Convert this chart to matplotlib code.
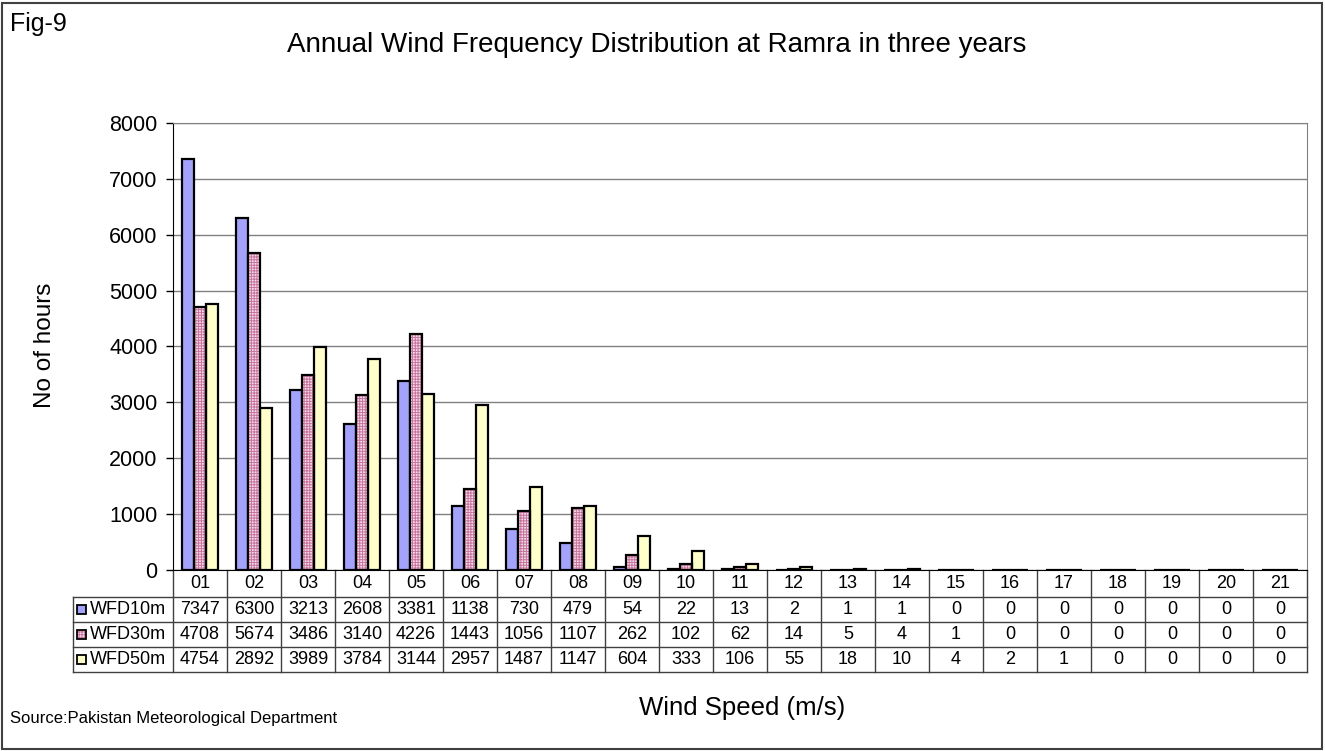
import numpy as np
import matplotlib
matplotlib.use('Agg')
import matplotlib.pyplot as plt
from matplotlib.patches import Rectangle
from matplotlib.transforms import blended_transform_factory

plt.rcParams['font.family'] = ['Liberation Sans', 'DejaVu Sans']
plt.rcParams['hatch.linewidth'] = 0.7

# wind speed classes (m/s) and hours per class
speeds = ['%02d' % i for i in range(1, 22)]
wfd10 = [7347, 6300, 3213, 2608, 3381, 1138, 730, 479, 54, 22, 13, 2, 1, 1, 0, 0, 0, 0, 0, 0, 0]
wfd30 = [4708, 5674, 3486, 3140, 4226, 1443, 1056, 1107, 262, 102, 62, 14, 5, 4, 1, 0, 0, 0, 0, 0, 0]
wfd50 = [4754, 2892, 3989, 3784, 3144, 2957, 1487, 1147, 604, 333, 106, 55, 18, 10, 4, 2, 1, 0, 0, 0, 0]
series_names = ['WFD10m', 'WFD30m', 'WFD50m']

W, H = 1325, 751
fig = plt.figure(figsize=(W/100, H/100), dpi=100)

# plot area in pixels
left, right, top, bottom = 173, 1307, 123, 570
ax = fig.add_axes([left/W, 1 - bottom/H, (right-left)/W, (bottom-top)/H])

x = np.arange(len(speeds))
w = 0.222
blue = '#A3A3FC'
pink_bg = '#F3DCE7'
pink_hatch = '#C8749E'
yellow = '#FFFFCC'
elw = 1.6

ax.bar(x - w, wfd10, w, color=blue, edgecolor='black', lw=elw, zorder=3)
ax.bar(x, wfd30, w, color=pink_bg, edgecolor=pink_hatch, hatch='++++++', lw=0, zorder=3)
ax.bar(x, wfd30, w, fill=False, edgecolor='black', lw=elw, zorder=4)
ax.bar(x + w, wfd50, w, color=yellow, edgecolor='black', lw=elw, zorder=3)

ax.set_xlim(-0.5, len(speeds) - 0.5)
ax.set_ylim(0, 8000)
ax.set_yticks(range(0, 8001, 1000))
ax.set_xticks([])
ax.tick_params(axis='y', direction='out', length=5, width=1, labelsize=15.5, pad=6)
ax.yaxis.grid(True, color='#808080', lw=1, zorder=0)
ax.set_axisbelow(True)
for s in ['top', 'right']:
    ax.spines[s].set_color('#808080')
for s in ['left', 'bottom']:
    ax.spines[s].set_color('black')

# data table under the plot
ph = bottom - top
hdr = 27 / ph
row = 25 / ph
colw = (right - left) / len(speeds)
lab_left = -0.5 - 100 / colw
tr = blended_transform_factory(ax.transData, ax.transAxes)
lc = '#404040'
n = len(series_names)
ybot = -hdr - n * row

for k in range(n + 1):
    ax.plot([lab_left, len(speeds) - 0.5], [-hdr - k*row]*2, color=lc, lw=1,
            transform=tr, clip_on=False)
ax.plot([lab_left, lab_left], [-hdr, ybot], color=lc, lw=1, transform=tr, clip_on=False)
for i in range(len(speeds) + 1):
    ax.plot([i - 0.5]*2, [0, ybot], color=lc, lw=1, transform=tr, clip_on=False)

for i, s in enumerate(speeds):
    ax.text(i, -hdr/2, s, ha='center', va='center', fontsize=13, transform=tr)

rows = [wfd10, wfd30, wfd50]
for k, vals in enumerate(rows):
    yc = -hdr - row*(k + 0.5)
    for i, v in enumerate(vals):
        ax.text(i, yc, str(v), ha='center', va='center', fontsize=13, transform=tr)
    kx = lab_left + 4/colw
    ks = 9
    kw, kh = ks/colw, ks/ph
    if k == 0:
        r = Rectangle((kx, yc - kh/2), kw, kh, facecolor=blue,
                      edgecolor='black', lw=1.3, transform=tr, clip_on=False)
    elif k == 1:
        r = Rectangle((kx, yc - kh/2), kw, kh, facecolor=pink_bg,
                      edgecolor=pink_hatch, hatch='++++++', lw=0, transform=tr, clip_on=False)
        ax.add_patch(r)
        r = Rectangle((kx, yc - kh/2), kw, kh, fill=False,
                      edgecolor='black', lw=1.3, transform=tr, clip_on=False)
    else:
        r = Rectangle((kx, yc - kh/2), kw, kh, facecolor=yellow,
                      edgecolor='black', lw=1.3, transform=tr, clip_on=False)
    ax.add_patch(r)
    ax.text(kx + 13/colw, yc, series_names[k], ha='left', va='center',
            fontsize=13, transform=tr)

# titles and labels
fig.text(657/W, 1 - 45/H, 'Annual Wind Frequency Distribution at Ramra in three years',
         ha='center', va='center', fontsize=20)
fig.text(10/W, 1 - 24/H, 'Fig-9', ha='left', va='center', fontsize=18)
fig.text(45/W, 1 - 345/H, 'No of hours', ha='center', va='center', rotation=90, fontsize=17.5)
fig.text(742/W, 1 - 708/H, 'Wind Speed (m/s)', ha='center', va='center', fontsize=18.5)
fig.text(10/W, 1 - 718/H, 'Source:Pakistan Meteorological Department', ha='left',
         va='center', fontsize=12)

# outer frame
fig.patches.append(Rectangle((2/W, 2/H), (W-5)/W, (H-5)/H, fill=False,
                             edgecolor='#404040', lw=1.5, transform=fig.transFigure))

fig.savefig('out.png', dpi=100, facecolor='white')
